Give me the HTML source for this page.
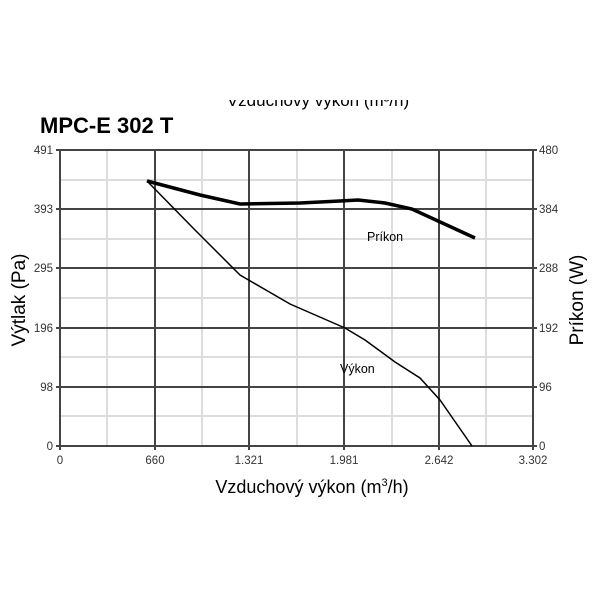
<!DOCTYPE html>
<html><head><meta charset="utf-8"><style>body{margin:0;background:#fff}</style></head><body>
<svg width="600" height="600" xmlns="http://www.w3.org/2000/svg" font-family="Liberation Sans, sans-serif">
<rect width="600" height="600" fill="#fff"/>
<defs><clipPath id="c"><rect x="0" y="100" width="600" height="20"/></clipPath><clipPath id="r"><rect x="0" y="0" width="560" height="600"/></clipPath></defs>
<text x="318" y="106" font-size="17" text-anchor="middle" clip-path="url(#c)" fill="#000">Vzduchový výkon (m³/h)</text>
<text x="40" y="133" font-size="22" font-weight="bold" fill="#000">MPC-E 302 T</text>
<g stroke="#ddd" stroke-width="2">
<line x1="107" y1="150" x2="107" y2="446"/><line x1="202" y1="150" x2="202" y2="446"/><line x1="297" y1="150" x2="297" y2="446"/><line x1="392" y1="150" x2="392" y2="446"/><line x1="486" y1="150" x2="486" y2="446"/>
<line x1="60" y1="180" x2="533" y2="180"/><line x1="60" y1="239" x2="533" y2="239"/><line x1="60" y1="298" x2="533" y2="298"/><line x1="60" y1="357" x2="533" y2="357"/><line x1="60" y1="416" x2="533" y2="416"/>
</g>
<g stroke="#444" stroke-width="2">
<line x1="60" y1="150" x2="60" y2="446"/><line x1="155" y1="150" x2="155" y2="446"/><line x1="249" y1="150" x2="249" y2="446"/><line x1="344" y1="150" x2="344" y2="446"/><line x1="439" y1="150" x2="439" y2="446"/><line x1="533" y1="150" x2="533" y2="446"/>
<line x1="56" y1="150" x2="537" y2="150"/><line x1="56" y1="209" x2="537" y2="209"/><line x1="56" y1="268" x2="537" y2="268"/><line x1="56" y1="328" x2="537" y2="328"/><line x1="56" y1="387" x2="537" y2="387"/><line x1="56" y1="446" x2="537" y2="446"/>
<line x1="60" y1="446" x2="60" y2="450"/><line x1="155" y1="446" x2="155" y2="450"/><line x1="249" y1="446" x2="249" y2="450"/><line x1="344" y1="446" x2="344" y2="450"/><line x1="439" y1="446" x2="439" y2="450"/><line x1="533" y1="446" x2="533" y2="450"/>
</g>
<g font-size="11.5" fill="#333" text-anchor="end">
<text x="53" y="154">491</text><text x="53" y="213">393</text><text x="53" y="272">295</text><text x="53" y="332">196</text><text x="53" y="391">98</text><text x="53" y="450">0</text>
</g>
<g font-size="11.5" fill="#333" clip-path="url(#r)">
<text x="539" y="154">480</text><text x="539" y="213">384</text><text x="539" y="272">288</text><text x="539" y="332">192</text><text x="539" y="391">96</text><text x="539" y="450">0</text>
</g>
<g font-size="11.5" fill="#333" text-anchor="middle">
<text x="60" y="464">0</text><text x="155" y="464">660</text><text x="249" y="464">1.321</text><text x="344" y="464">1.981</text><text x="439" y="464">2.642</text><text x="533" y="464">3.302</text>
</g>
<text x="312" y="493" font-size="18" text-anchor="middle" fill="#000">Vzduchový výkon (m<tspan font-size="11" dy="-7">3</tspan><tspan dy="7">/h)</tspan></text>
<text transform="translate(25,300) rotate(-90)" font-size="19" text-anchor="middle" fill="#000">Výtlak (Pa)</text>
<text transform="translate(583,300) rotate(-90)" font-size="19" text-anchor="middle" fill="#000">Príkon (W)</text>
<polyline fill="none" stroke="#000" stroke-width="3.5" points="147,181 200,195 240,204 300,203 340,201 358,200 385,203 412,209 475,238"/>
<polyline fill="none" stroke="#000" stroke-width="1.5" points="147,181 195,230 240,275 290,304 345,328 365,340 395,362 420,378 440,400 472,446"/>
<text x="367" y="241" font-size="12.5" fill="#000">Príkon</text>
<text x="340" y="373" font-size="12.5" fill="#000">Výkon</text>
</svg>
</body></html>
